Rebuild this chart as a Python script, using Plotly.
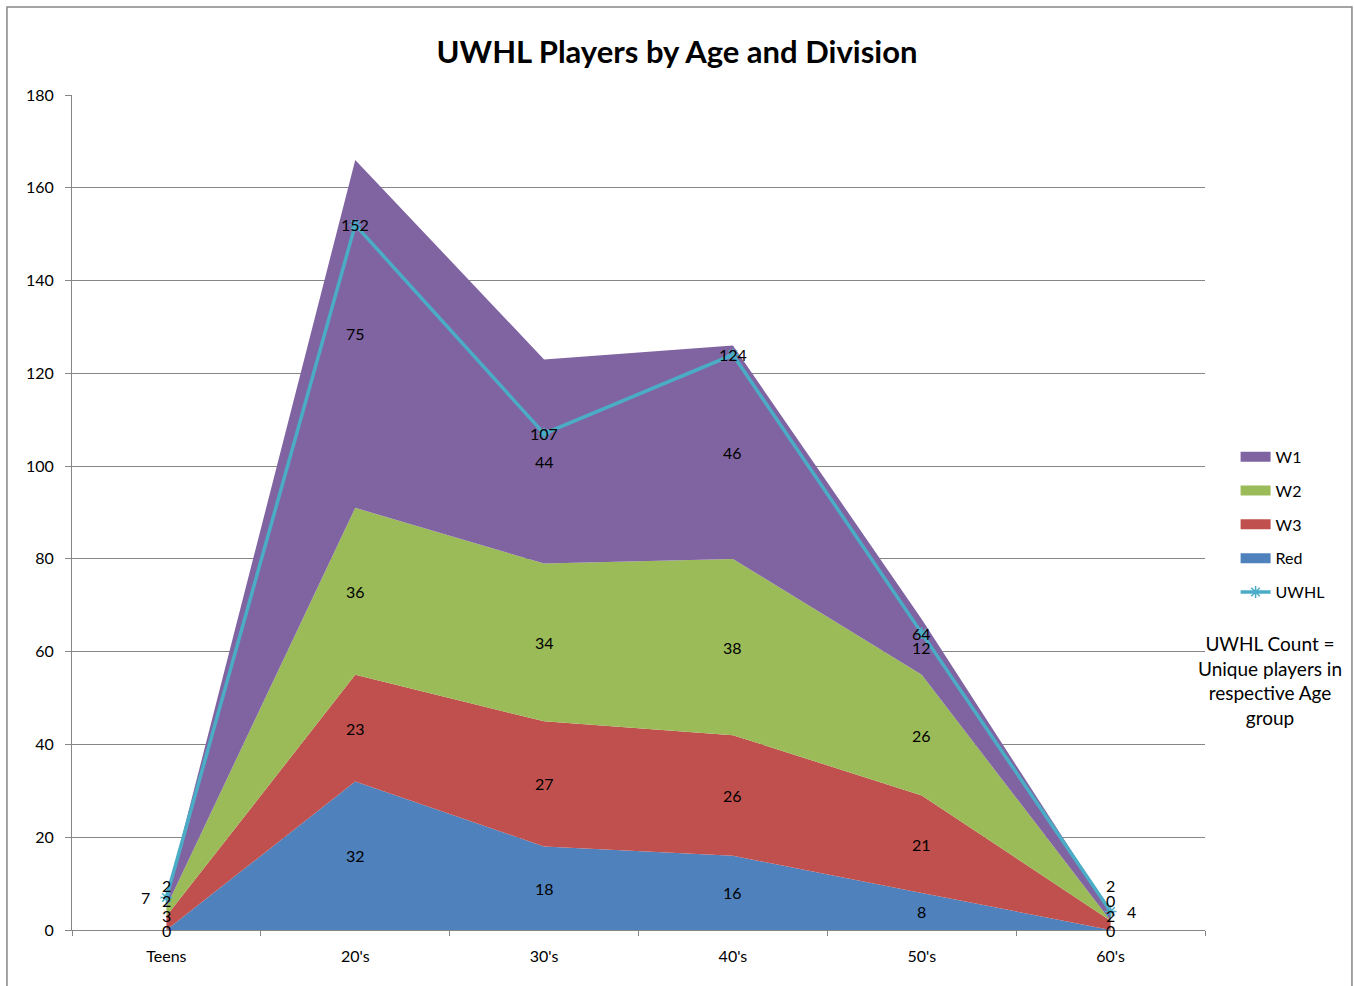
import plotly.graph_objects as go

categories = ["Teens", "20's", "30's", "40's", "50's", "60's"]
red = [0, 32, 18, 16, 8, 0]
w3 = [3, 23, 27, 26, 21, 2]
w2 = [2, 36, 34, 38, 26, 0]
w1 = [2, 75, 44, 46, 12, 2]
uwhl = [7, 152, 107, 124, 64, 4]

series = [("Red", red, "#4F81BD", 4), ("W3", w3, "#C0504D", 3),
          ("W2", w2, "#9BBB59", 2), ("W1", w1, "#8064A2", 1)]

FONT = "Lato, 'Open Sans', sans-serif"
fig = go.Figure()
for name, vals, col, rank in series:
    fig.add_trace(go.Scatter(
        x=categories, y=vals, name=name, stackgroup="one",
        mode="lines", line=dict(width=0, color=col), fillcolor=col,
        showlegend=False, legendgroup=name))
    # legend-only entry drawn as a thick bar
    fig.add_trace(go.Scatter(
        x=[None], y=[None], name=name, mode="lines",
        line=dict(width=12, color=col), legendrank=rank, legendgroup=name))

fig.add_trace(go.Scatter(
    x=categories, y=uwhl, name="UWHL", mode="lines+markers",
    line=dict(color="#4BACC6", width=3.5),
    marker=dict(symbol="asterisk-open", size=10, color="#4BACC6",
                line=dict(color="#4BACC6", width=1.5)),
    legendrank=5, legendgroup="UWHL"))

# plot geometry (pixels) used only to avoid overlapping labels
top_px, bot_px, ymax = 95, 930, 180
ppu = (bot_px - top_px) / ymax
LBL = dict(size=16, color="black", family=FONT)
annotations = []
for i, cat in enumerate(categories):
    base = 0
    prev_px = None
    for name, vals, col, rank in series:
        v = vals[i]
        mid = base + v / 2
        base += v
        px = bot_px - mid * ppu
        if prev_px is not None and px > prev_px - 15:
            px = prev_px - 15
        prev_px = px
        annotations.append(dict(x=cat, y=(bot_px - px) / ppu, text=str(v),
                                showarrow=False, font=LBL))
    if i == 0:
        xs, xa = -14, "right"
    elif i == len(categories) - 1:
        xs, xa = 14, "left"
    else:
        xs, xa = 0, "center"
    annotations.append(dict(x=cat, y=uwhl[i], text=str(uwhl[i]), showarrow=False,
                            xshift=xs, xanchor=xa, font=LBL))

annotations.append(dict(xref="paper", yref="paper", x=1.057, y=0.359, xanchor="center",
                        yanchor="top", showarrow=False, align="center",
                        text="UWHL Count =<br>Unique players in<br>respective Age<br>group",
                        font=dict(size=19, color="black", family=FONT)))

fig.update_layout(
    width=1354, height=986,
    margin=dict(l=72, r=149, t=95, b=56),
    paper_bgcolor="white", plot_bgcolor="white",
    title=dict(text="<b>UWHL Players by Age and Division</b>", x=0.5, xanchor="center",
               y=0.947, yanchor="middle", font=dict(size=31, color="black", family=FONT)),
    font=dict(family=FONT, size=16, color="black"),
    showlegend=True,
    legend=dict(x=1.027, y=0.587, xanchor="left", yanchor="top", tracegroupgap=10,
                font=dict(size=16, color="black", family=FONT), bgcolor="rgba(0,0,0,0)"),
    annotations=annotations,
    shapes=[dict(type="rect", xref="paper", yref="paper", x0=-0.0574, x1=1.1297,
                 y0=-0.08, y1=1.1054, line=dict(color="#868686", width=1.5))],
)
fig.update_xaxes(type="category", range=[-0.5, 5.5], tickson="boundaries", ticks="outside",
                 ticklen=5, tickcolor="#868686", showline=True, linecolor="#868686",
                 linewidth=1, showgrid=False, tickfont=dict(size=16, family=FONT),
                 ticklabelstandoff=12)
fig.update_yaxes(range=[0, 180], dtick=20, ticks="outside", ticklen=6, tickcolor="#868686",
                 showline=True, linecolor="#868686", linewidth=1, showgrid=True,
                 gridcolor="#868686", gridwidth=1, zeroline=False,
                 tickfont=dict(size=16, family=FONT), ticklabelstandoff=8)

fig.write_html("out.html", config={"displayModeBar": False},
               post_script="document.body.style.margin='0';")
